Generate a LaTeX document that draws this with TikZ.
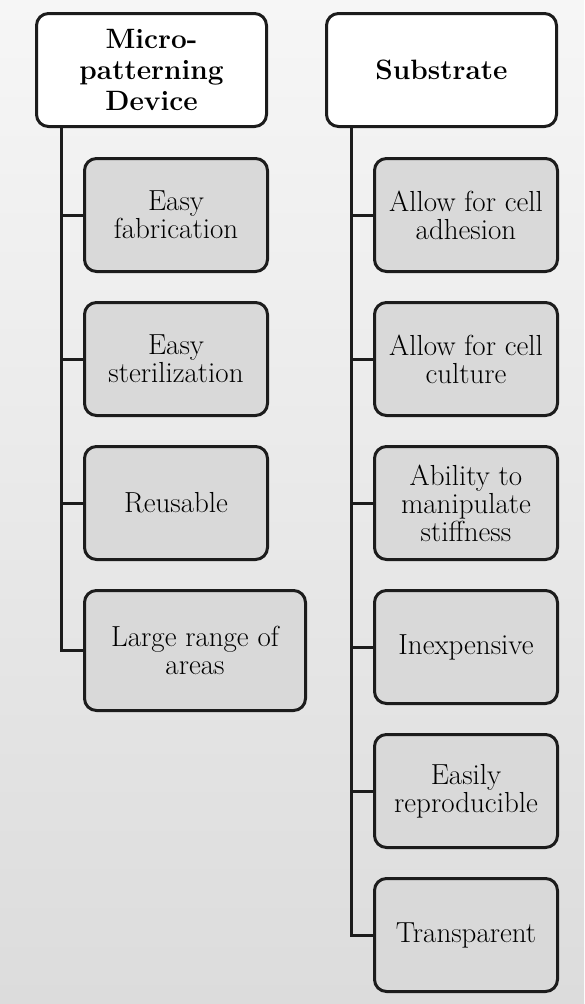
\documentclass[tikz,border=0pt]{standalone}
\usepackage{fontspec}
\usetikzlibrary{positioning}

\definecolor{boxfill}{HTML}{D9D9D9}
\definecolor{edgeblack}{HTML}{1C1C1C}
\definecolor{bgtop}{HTML}{F6F6F6}
\definecolor{bgbottom}{HTML}{DCDCDC}

\begin{document}
\begin{tikzpicture}[x=1pt, y=1pt, node distance=28pt,
    box/.style={draw=edgeblack, line width=3pt, rounded corners=12pt, align=center, inner sep=0pt, text=black},
    root/.style={box, fill=white, minimum width=230pt, minimum height=113pt, font=\fontsize{28}{31}\selectfont\bfseries},
    leaf/.style={box, fill=boxfill, minimum width=183pt, minimum height=113pt, font=\fontsize{29}{28}\selectfont},
    trunk/.style={draw=edgeblack, line width=3pt}]

    \fill[top color=bgtop, bottom color=bgbottom] (0,0) rectangle (584,-1004);
    \useasboundingbox (0,0) rectangle (584,-1004);

    % the two headings
    \node[root] (D0) at (151.5,-70) {Micro-\\patterning\\Device};
    \node[root] (S0) [right=57pt of D0] {Substrate};

    % micro-patterning device
    \node[leaf] (D1) [below right=29pt and 48pt of D0.south west] {Easy\\fabrication};
    \node[leaf] (D2) [below=of D1] {Easy\\sterilization};
    \node[leaf] (D3) [below=of D2] {Reusable};
    \node[leaf, minimum width=221pt, minimum height=120pt] (D4) [below=28pt of D3.south west, anchor=north west] {Large range of\\areas};

    % substrate
    \node[leaf] (S1) [below right=29pt and 48pt of S0.south west] {Allow for cell\\adhesion};
    \node[leaf] (S2) [below=of S1] {Allow for cell\\culture};
    \node[leaf] (S3) [below=of S2] {Ability to\\manipulate\\stiffness};
    \node[leaf] (S4) [below=of S3] {Inexpensive};
    \node[leaf] (S5) [below=of S4] {Easily\\reproducible};
    \node[leaf] (S6) [below=of S5] {Transparent};

    \foreach \n in {1,...,4}
        \draw[trunk] ([xshift=26pt]D0.south west) |- (D\n.west);
    \foreach \n in {1,...,6}
        \draw[trunk] ([xshift=26pt]S0.south west) |- (S\n.west);

\end{tikzpicture}
\end{document}
